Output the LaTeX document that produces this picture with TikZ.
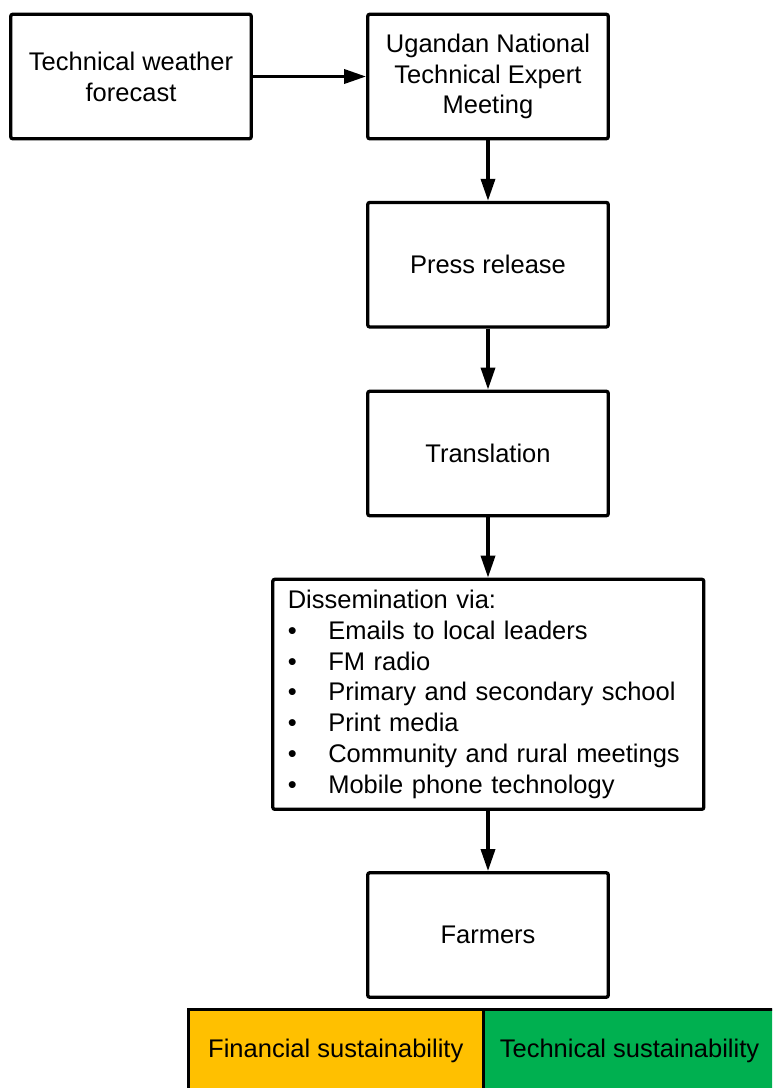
\documentclass[tikz,border=0pt]{standalone}
\usepackage{fontspec}
\setmainfont{Liberation Sans}
\usetikzlibrary{arrows.meta}
\definecolor{orangeF}{HTML}{FFC000}
\definecolor{greenT}{HTML}{00B050}
\begin{document}
\begin{tikzpicture}[x=1pt,y=-1pt,
  box/.style={draw, line width=3.3pt, rounded corners=2pt, fill=white, align=center, inner sep=0pt,
    font=\fontsize{25.5}{30.8}\selectfont, minimum width=240.5pt, minimum height=124.5pt},
  bot/.style={draw, line width=3.3pt, inner sep=0pt, font=\fontsize{25.5}{30.8}\selectfont,
    minimum height=84pt},
  arr/.style={line width=3.5pt, -{Triangle[length=22pt,width=14pt]}}
  ]
\useasboundingbox (0,0) rectangle (772,1088);
\clip (0,0) rectangle (772,1088);
\node[box] (tw) at (131,76.5) {Technical weather\\forecast};
\node[box] (un) at (488,76.5) {Ugandan National\\Technical Expert\\Meeting};
\node[box] (pr) at (488,264.7) {Press release};
\node[box] (tr) at (488,453.5) {Translation};
\node[box, minimum width=431pt, minimum height=230pt, text width=401pt, align=left] (ds) at (488.3,694.3)
  {Dissemination via:\\
   \makebox[40.5pt][l]{•}Emails to local leaders\\
   \makebox[40.5pt][l]{•}FM radio\\
   \makebox[40.5pt][l]{•}Primary and secondary school\\
   \makebox[40.5pt][l]{•}Print media\\
   \makebox[40.5pt][l]{•}Community and rural meetings\\
   \makebox[40.5pt][l]{•}Mobile phone technology};
\node[box] (fa) at (488,935) {Farmers};
\node[bot, fill=orangeF, minimum width=295pt] (fin) at (335.8,1051.3) {Financial sustainability};
\node[bot, fill=greenT, minimum width=292pt] (tec) at (629.5,1051.3) {Technical sustainability};
\draw[arr] (tw) -- (un);
\draw[arr] (un) -- (pr);
\draw[arr] (pr) -- (tr);
\draw[arr] (tr.south) -- (tr.south |- ds.north);
\draw[arr] (fa.north |- ds.south) -- (fa.north);
\end{tikzpicture}
\end{document}
